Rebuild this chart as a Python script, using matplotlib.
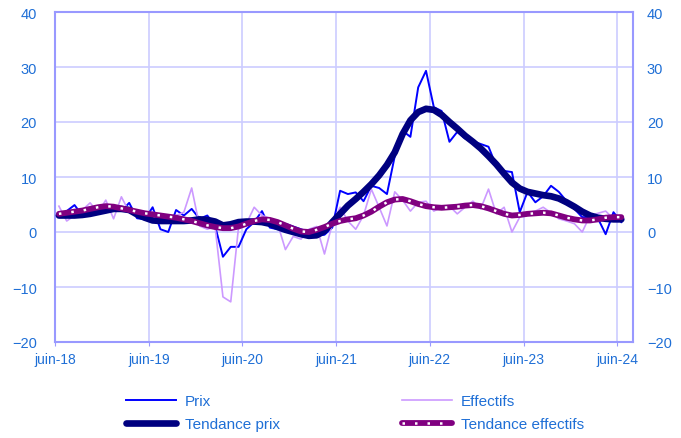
import matplotlib
matplotlib.use('Agg')
import matplotlib.pyplot as plt
import numpy as np

plt.rcParams['font.family'] = ['Liberation Sans', 'DejaVu Sans']

# monthly series, juin-18 -> juin-24 (73 months)
prix = [3.0, 3.8, 4.9, 3.0, 3.2, 3.5, 3.6, 4.0, 3.8, 5.3, 2.5, 2.3,
        4.5, 0.5, 0.0, 4.0, 3.0, 4.2, 2.4, 3.0, 1.1, -4.5, -2.7, -2.7,
        0.5, 1.8, 3.8, 0.8, 0.5, 1.5, 1.0, 0.5, 0.0, -0.7, -0.5, 0.8,
        7.5, 6.9, 7.2, 5.6, 8.4, 8.0, 6.9, 13.8, 18.4, 17.3, 26.3, 29.3,
        22.7, 22.0, 16.4, 18.2, 17.0, 16.5, 16.0, 15.5, 12.0, 11.1, 10.9, 3.6,
        7.3, 5.4, 6.5, 8.4, 7.3, 5.6, 4.2, 2.7, 2.7, 2.5, -0.4, 3.6,
        1.8]
tendance_prix = [3.0, 3.0, 3.0, 3.1, 3.3, 3.6, 3.9, 4.2, 4.2, 4.0, 3.2, 2.6,
                 2.1, 2.0, 2.0, 2.0, 2.0, 2.1, 2.3, 2.2, 1.9, 1.2, 1.4, 1.8,
                 1.9, 1.9, 1.8, 1.5, 0.9, 0.4, 0.0, -0.4, -0.7, -0.6, 0.2, 1.8,
                 3.3, 4.8, 6.0, 7.3, 8.7, 10.3, 12.2, 14.5, 17.8, 20.3, 21.8, 22.4,
                 22.2, 21.3, 20.0, 18.8, 17.5, 16.4, 15.2, 13.8, 12.3, 10.6, 9.0, 7.9,
                 7.3, 7.0, 6.7, 6.5, 6.1, 5.4, 4.6, 3.7, 3.0, 2.6, 2.4, 2.3,
                 2.3]
effectifs = [4.7, 2.0, 3.0, 4.0, 5.3, 3.5, 5.8, 2.4, 6.4, 3.6, 4.0, 3.0,
             3.6, 3.0, 2.7, 3.0, 3.6, 8.0, 1.1, 0.5, 0.9, -11.8, -12.7, 0.9,
             1.5, 4.5, 3.0, 2.5, 1.5, -3.2, -0.8, -1.3, 0.5, 1.0, -4.0, 1.5,
             4.5, 2.0, 0.5, 3.0, 7.8, 4.5, 1.1, 7.3, 5.8, 3.8, 5.4, 5.6,
             3.8, 4.5, 4.7, 3.3, 4.5, 5.6, 4.2, 7.8, 3.3, 4.5, 0.0, 2.7,
             3.5, 3.8, 4.5, 3.5, 2.4, 2.0, 1.5, 0.0, 3.0, 3.4, 3.8, 2.4,
             2.7]
tendance_effectifs = [3.3, 3.5, 3.7, 3.9, 4.2, 4.5, 4.7, 4.6, 4.3, 4.0, 3.7, 3.4,
                      3.2, 3.0, 2.8, 2.6, 2.3, 2.0, 1.6, 1.2, 0.9, 0.7, 0.7, 1.0,
                      1.5, 2.0, 2.3, 2.2, 1.8, 1.2, 0.6, 0.1, 0.0, 0.4, 0.9, 1.5,
                      2.0, 2.3, 2.5, 3.0, 3.7, 4.6, 5.4, 5.9, 6.0, 5.6, 5.1, 4.7,
                      4.5, 4.4, 4.5, 4.6, 4.8, 4.9, 4.7, 4.3, 3.8, 3.3, 3.0, 3.1,
                      3.3, 3.4, 3.5, 3.4, 3.0, 2.6, 2.3, 2.1, 2.1, 2.3, 2.6, 2.7,
                      2.7]
tick_labels = ['juin-18', 'juin-19', 'juin-20', 'juin-21', 'juin-22', 'juin-23', 'juin-24']
y_ticks = [-20, -10, 0, 10, 20, 30, 40]

TXT = '#1F6FD6'
GRID = '#CCCCFF'
SPINE = '#9999FF'
DOTS = (0, (1, 4))

fig = plt.figure(figsize=(6.81, 4.39), dpi=100)
ax = fig.add_axes([55 / 681, 1 - 343 / 439, (633 - 55) / 681, (343 - 13) / 439])

x = np.arange(len(prix)) + 0.5
ax.plot(x, prix, color='#0000FF', lw=1.4, zorder=3)
ax.plot(x, effectifs, color='#CC99FF', lw=1.2, zorder=3)
ax.plot(x, tendance_prix, color='#000080', lw=4.8, solid_capstyle='round', zorder=4)
ax.plot(x, tendance_effectifs, color='#800080', lw=4.2, solid_capstyle='round', zorder=5)
ax.plot(x, tendance_effectifs, color='white', lw=1.8, linestyle=DOTS, zorder=6)

ax.set_xlim(0, 74)
ax.set_ylim(-20, 40)
ax.set_xticks(np.arange(len(tick_labels)) * 12)
ax.set_xticklabels(tick_labels)
ax.set_yticks(y_ticks)
ax.grid(True, color=GRID, lw=1.2)
ax.set_axisbelow(True)
for s in ax.spines.values():
    s.set_color(SPINE)
    s.set_linewidth(1.5)
ax.tick_params(axis='x', colors=SPINE, labelcolor=TXT, labelsize=10, length=3, pad=4)
ax.tick_params(axis='y', colors=SPINE, labelcolor=TXT, labelsize=10.5, length=0, pad=13)

ax2 = ax.twinx()
ax2.set_ylim(-20, 40)
ax2.set_yticks(y_ticks)
ax2.tick_params(axis='y', colors=SPINE, labelcolor=TXT, labelsize=10.5, length=0, pad=10)
for s in ax2.spines.values():
    s.set_visible(False)

# legend: two columns, placed by hand
h_prix = plt.Line2D([], [], color='#0000FF', lw=1.4)
h_eff = plt.Line2D([], [], color='#CC99FF', lw=1.2)
h_tp = plt.Line2D([], [], color='#000080', lw=4.8, solid_capstyle='round')
h_te1 = plt.Line2D([], [], color='#800080', lw=4.2, solid_capstyle='round')
h_te2 = plt.Line2D([], [], color='white', lw=1.8, linestyle=DOTS)

kw = dict(loc='upper left', frameon=False, fontsize=11, handlelength=3.3,
          handletextpad=0.55, labelspacing=0.6, borderpad=0, borderaxespad=0,
          labelcolor=TXT)
leg1 = fig.legend([h_prix, h_tp], ['Prix', 'Tendance prix'],
                  bbox_to_anchor=(126 / 681, 1 - 395 / 439), **kw)
leg2 = fig.legend([h_eff, (h_te1, h_te2)], ['Effectifs', 'Tendance effectifs'],
                  bbox_to_anchor=(402 / 681, 1 - 395 / 439), **kw)

fig.savefig('out.png', dpi=100)
